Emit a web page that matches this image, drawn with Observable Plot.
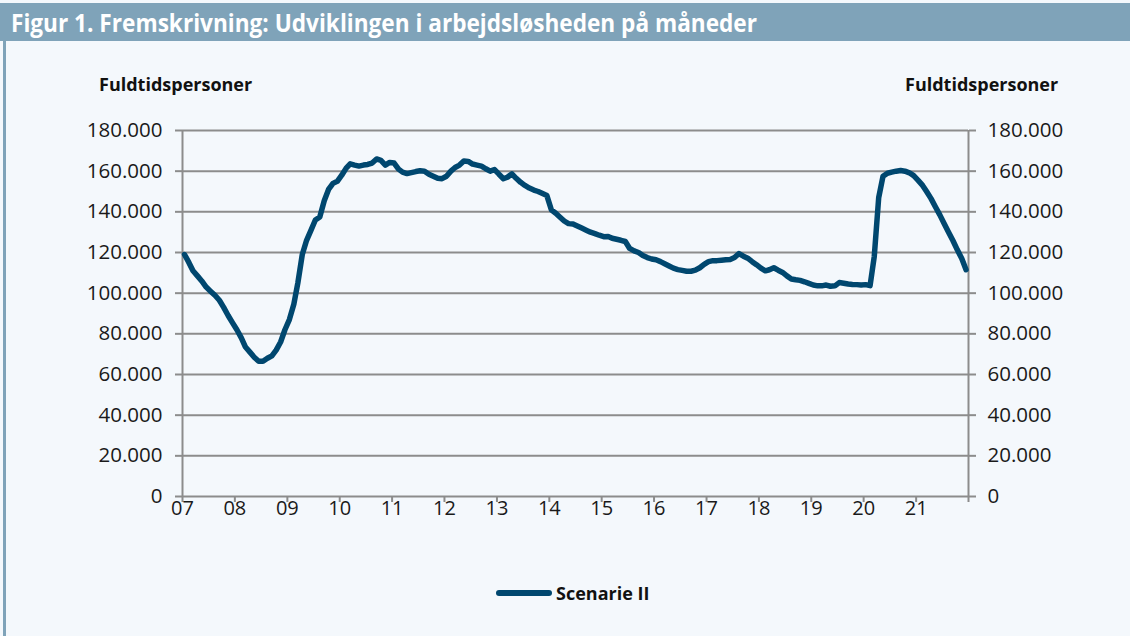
<!DOCTYPE html>
<html>
<head>
<meta charset="utf-8">
<script src="https://cdn.jsdelivr.net/npm/d3@7"></script>
<script src="https://cdn.jsdelivr.net/npm/@observablehq/plot@0.6"></script>
<style>
  html, body { margin: 0; padding: 0; background: #f4f8fc; }
  #wrap { position: relative; width: 1130px; height: 636px; background: #f4f8fc; overflow: hidden; font-family: "Open Sans", sans-serif; }
  #header { position: absolute; left: 0; top: 3px; width: 1130px; height: 38px; background: #7fa3b9; }
  #leftbar { position: absolute; left: 3px; top: 3px; width: 3px; height: 633px; background: #7fa3b9; }
  .ytitle { position: absolute; top: 72px; font-weight: 700; font-size: 18px; color: #111; white-space: nowrap; }
  #chart { position: absolute; left: 0; top: 0; }
  #legend { position: absolute; left: 495px; top: 581px; display: flex; align-items: center; }
  #legend span { font-weight: 700; font-size: 18px; color: #111; margin-left: 3px; }
</style>
</head>
<body>
<div id="wrap">
  <div id="header"><svg width="1130" height="38"><text id="title" x="11" y="29" textLength="746" lengthAdjust="spacingAndGlyphs" font-family="Open Sans" font-weight="700" font-size="25" fill="#ffffff"></text></svg></div>
  <div id="leftbar"></div>
  <div id="chart"></div>
  <div class="ytitle" id="ytl" style="left:99px"></div>
  <div class="ytitle" id="ytr" style="left:905px"></div>
  <div id="legend"><svg width="58" height="10"><line x1="4" y1="5" x2="54" y2="5" stroke="#00476f" stroke-width="6" stroke-linecap="round"/></svg><span id="legtext"></span></div>
</div>
<script>
const title = "Figur 1. Fremskrivning: Udviklingen i arbejdsløsheden på måneder";
const yAxisTitle = "Fuldtidspersoner";
const seriesName = "Scenarie II";
const firstYear = 2007;
const yearLabels = ["07","08","09","10","11","12","13","14","15","16","17","18","19","20","21"];
const yTicks = [0, 20000, 40000, 60000, 80000, 100000, 120000, 140000, 160000, 180000];

// Monthly values (fuldtidspersoner), January to December of each year
const v2007 = [119000, 115000, 111000, 108500, 106000, 103000, 101000, 99000, 96500, 93000, 89000, 85500];
const v2008 = [82000, 78000, 73500, 71000, 68500, 66500, 66500, 68000, 69200, 72000, 76000, 82000];
const v2009 = [87000, 94500, 105000, 119000, 126000, 131000, 136000, 137500, 145500, 151000, 154000, 155000];
const v2010 = [158000, 161500, 163600, 163000, 162500, 163000, 163300, 164000, 166000, 165300, 163000, 164300];
const v2011 = [164000, 161000, 159500, 158800, 159300, 159800, 160200, 160000, 158500, 157500, 156500, 156300];
const v2012 = [157500, 160000, 161800, 163000, 165000, 164800, 163500, 163000, 162500, 161200, 160000, 160800];
const v2013 = [158500, 156300, 157000, 158700, 156500, 154500, 153000, 151700, 150700, 150000, 149000, 148000];
const v2014 = [141000, 139300, 137500, 135500, 134200, 134000, 133000, 132000, 131000, 130000, 129300, 128500];
const v2015 = [127800, 127900, 127000, 126500, 126000, 125400, 122000, 120800, 120000, 118500, 117500, 116800];
const v2016 = [116400, 115500, 114500, 113400, 112300, 111600, 111200, 110800, 110800, 111300, 112500, 114200];
const v2017 = [115500, 116000, 116000, 116200, 116400, 116600, 117500, 119500, 118200, 117200, 115500, 114000];
const v2018 = [112300, 111000, 111500, 112500, 111300, 110200, 108500, 107000, 106600, 106300, 105600, 104800];
const v2019 = [104000, 103600, 103600, 104000, 103400, 103600, 105200, 104900, 104500, 104300, 104200, 104000];
const v2020 = [104200, 103700, 118000, 147000, 157500, 159000, 159500, 160000, 160300, 160000, 159200, 157800];
const v2021 = [155500, 153000, 150000, 146500, 142500, 138500, 134300, 130000, 125800, 121300, 117000, 111500];

const yearSeries = [v2007, v2008, v2009, v2010, v2011, v2012, v2013, v2014, v2015, v2016, v2017, v2018, v2019, v2020, v2021];
const data = yearSeries.flatMap((arr, yi) => arr.map((v, mi) => ({
  date: new Date(Date.UTC(firstYear + yi, mi, 15)),
  value: v
})));

document.getElementById("title").textContent = title;
document.getElementById("ytl").textContent = yAxisTitle;
document.getElementById("ytr").textContent = yAxisTitle;
document.getElementById("legtext").textContent = seriesName;

const fmt = d3.formatLocale({decimal: ",", thousands: ".", grouping: [3], currency: ["", ""]}).format(",.0f");
const x0 = new Date(Date.UTC(firstYear, 0, 1));
const x1 = new Date(Date.UTC(firstYear + yearLabels.length, 0, 1));
const xTicks = d3.utcYear.range(x0, new Date(x1.getTime() + 1));
const grid = "#8c8c8c";
const ink = "#1a1a1a";

const chart = Plot.plot({
  width: 1130,
  height: 636,
  marginTop: 130,
  marginBottom: 140,
  marginLeft: 182,
  marginRight: 162,
  style: {background: "transparent", fontFamily: "Open Sans, sans-serif", overflow: "visible"},
  x: {type: "utc", domain: [x0, x1]},
  y: {domain: [0, 180000]},
  marks: [
    Plot.ruleY(yTicks.slice(1), {stroke: grid, strokeWidth: 2}),
    Plot.ruleX([x0, x1], {stroke: grid, strokeWidth: 2}),
    Plot.ruleY([0], {stroke: grid, strokeWidth: 2}),
    Plot.axisY({anchor: "left", ticks: yTicks, tickFormat: fmt, tickSize: 7, tickPadding: 13, fontSize: 20.5, stroke: grid, strokeWidth: 2, fill: ink, label: null}),
    Plot.axisY({anchor: "right", ticks: yTicks, tickFormat: fmt, tickSize: 7, tickPadding: 12, fontSize: 20.5, stroke: grid, strokeWidth: 2, fill: ink, label: null}),
    Plot.axisX({ticks: xTicks, tickFormat: d => { const i = d.getUTCFullYear() - firstYear; return i < yearLabels.length ? yearLabels[i] : ""; }, tickSize: 6, tickPadding: -2, fontSize: 20, stroke: grid, strokeWidth: 2, fill: ink, label: null}),
    Plot.line(data, {x: "date", y: "value", stroke: "#00476f", strokeWidth: 5.5, strokeLinejoin: "round", strokeLinecap: "round"})
  ]
});
document.getElementById("chart").appendChild(chart);
</script>
</body>
</html>
